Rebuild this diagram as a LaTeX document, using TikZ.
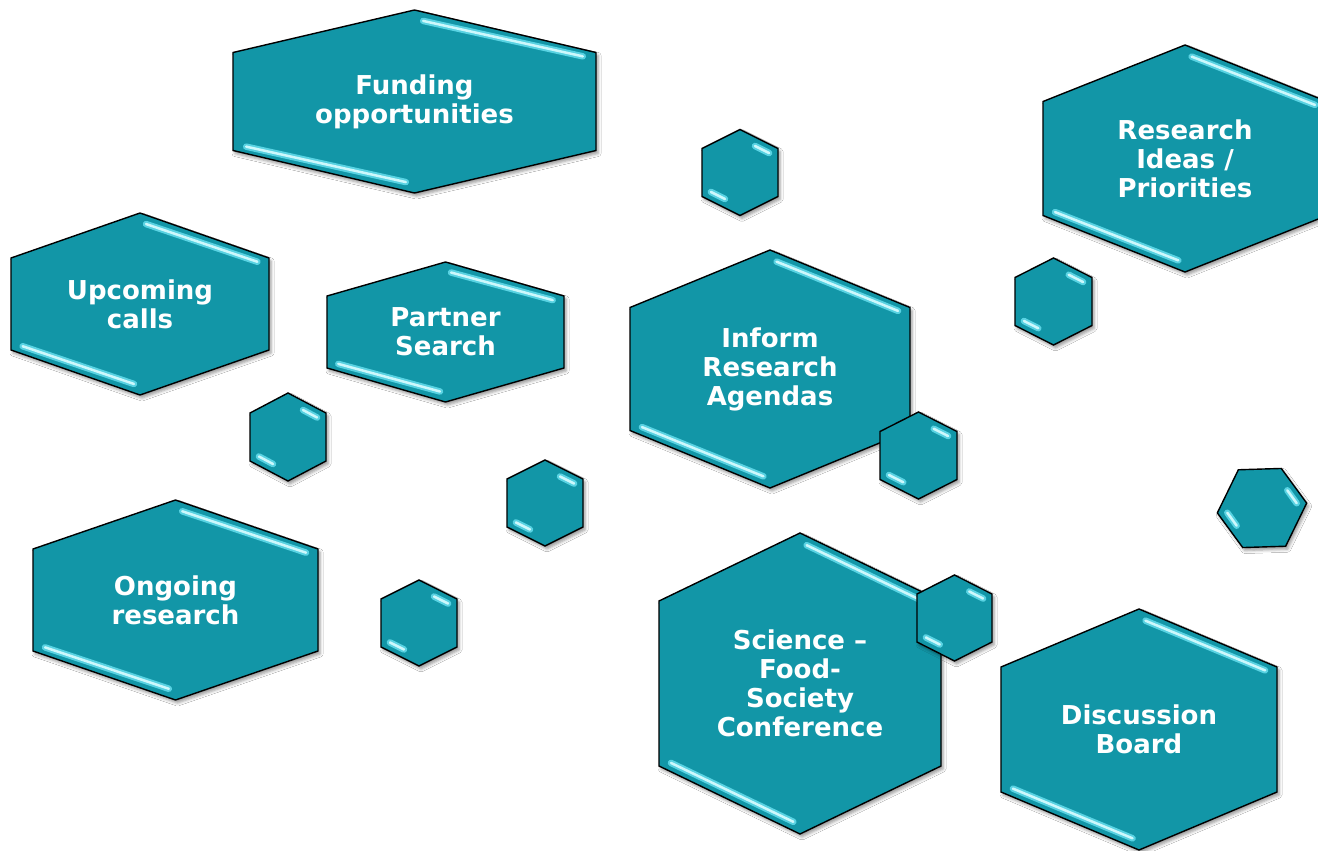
\documentclass[tikz,border=0pt]{standalone}
\usepackage{fontspec}
\setsansfont{DejaVu Sans}
\usetikzlibrary{calc,shadows.blur}
\definecolor{hexteal}{RGB}{18,150,167}
\definecolor{glintedge}{RGB}{88,210,226}
\definecolor{glintcore}{RGB}{205,248,252}
\tikzset{
	%Define style for hexagon bodies
	hexbody/.style={
		fill=hexteal,
		draw=black, line width=1.4pt,
		blur shadow={shadow xshift=2pt, shadow yshift=-3pt,
			shadow blur radius=3pt, shadow opacity=40}},
	%Define style for the bevel glints
	glint/.style={
		line cap=round, line width=2.5pt, draw=glintcore,
		preaction={draw=glintedge, line width=6.5pt, line cap=round}},
	%Define style for labels
	hexlabel/.style={
		text=white, align=center, inner sep=0pt,
		font=\sffamily\bfseries\fontsize{26}{29}\selectfont}
}
% hexagon: [glint start] name, centre x, centre y, half width, half height, half side
\newcommand{\hexcell}[7][0.05]{%
	\coordinate (#2) at (#3,#4);
	\path[hexbody] (#3,#4-#6) -- (#3+#5,#4-#7) -- (#3+#5,#4+#7) -- (#3,#4+#6)
		-- (#3-#5,#4+#7) -- (#3-#5,#4-#7) -- cycle;
	\coordinate (#2-t) at (#3,#4-#6+9);
	\coordinate (#2-r) at (#3+#5-8,#4-#7+5);
	\coordinate (#2-l) at (#3-#5+8,#4+#7-5);
	\coordinate (#2-b) at (#3,#4+#6-9);
	\draw[glint] ($(#2-t)!#1!(#2-r)$) -- ($(#2-t)!0.97!(#2-r)$);
	\draw[glint] ($(#2-l)!0.03!(#2-b)$) -- ($(#2-l)!{1-#1}!(#2-b)$);
}

\begin{document}
\begin{tikzpicture}[x=1pt,y=-1pt]
	\path[use as bounding box, fill=white] (0,0) rectangle (1318,851);
	\clip (0,0) rectangle (1318,851);
	% big hexagons
	\hexcell{fund}{414.5}{101.5}{181.5}{91.5}{49}
	\hexcell{res}{1185}{158.5}{142}{113.5}{57}
	\hexcell{upc}{140}{304}{129}{91}{46}
	\hexcell{part}{445.5}{332}{118.5}{70}{36}
	\hexcell{inf}{770}{369}{140}{119}{61.5}
	\hexcell{ong}{175.5}{600}{142.5}{100}{51}
	\hexcell{sci}{800}{683.5}{141}{150.5}{82.5}
	\hexcell{dis}{1139}{729.5}{138}{120.5}{62.5}
	% small hexagons
	\hexcell[0.5]{sa}{740}{172.5}{38}{43}{24}
	\hexcell[0.5]{sb}{1053.5}{301.5}{38.5}{43.5}{24}
	\hexcell[0.5]{sc}{288}{437}{38}{44}{24}
	\hexcell[0.5]{sd}{918.5}{455.5}{38.5}{43.5}{24}
	\hexcell[0.5]{se}{545}{503}{38}{43}{24}
	\hexcell[0.5]{sf}{419}{623}{38}{43}{24}
	\hexcell[0.5]{sg}{954.5}{618}{37.5}{43}{24}
	\begin{scope}[rotate around={-26:(1262,508)}]
		\hexcell[0.5]{sh}{1262}{508}{38}{44}{24}
	\end{scope}
	% node Funding
	\node[hexlabel] (fundtext) at (fund) {Funding\\opportunities};
	% node Research Ideas
	\node[hexlabel] (restext) at (res) {Research\\Ideas /\\Priorities};
	% node Upcoming
	\node[hexlabel] (upctext) at (upc) {Upcoming\\calls};
	% node Partner
	\node[hexlabel] (parttext) at (part) {Partner\\Search};
	% node Inform
	\node[hexlabel] (inftext) at (inf) {Inform\\Research\\Agendas};
	% node Ongoing
	\node[hexlabel] (ongtext) at (ong) {Ongoing\\research};
	% node Conference
	\node[hexlabel] (scitext) at (sci) {Science –\\Food-\\Society\\Conference};
	% node Discussion
	\node[hexlabel] (distext) at (dis) {Discussion\\Board};
\end{tikzpicture}
\end{document}
